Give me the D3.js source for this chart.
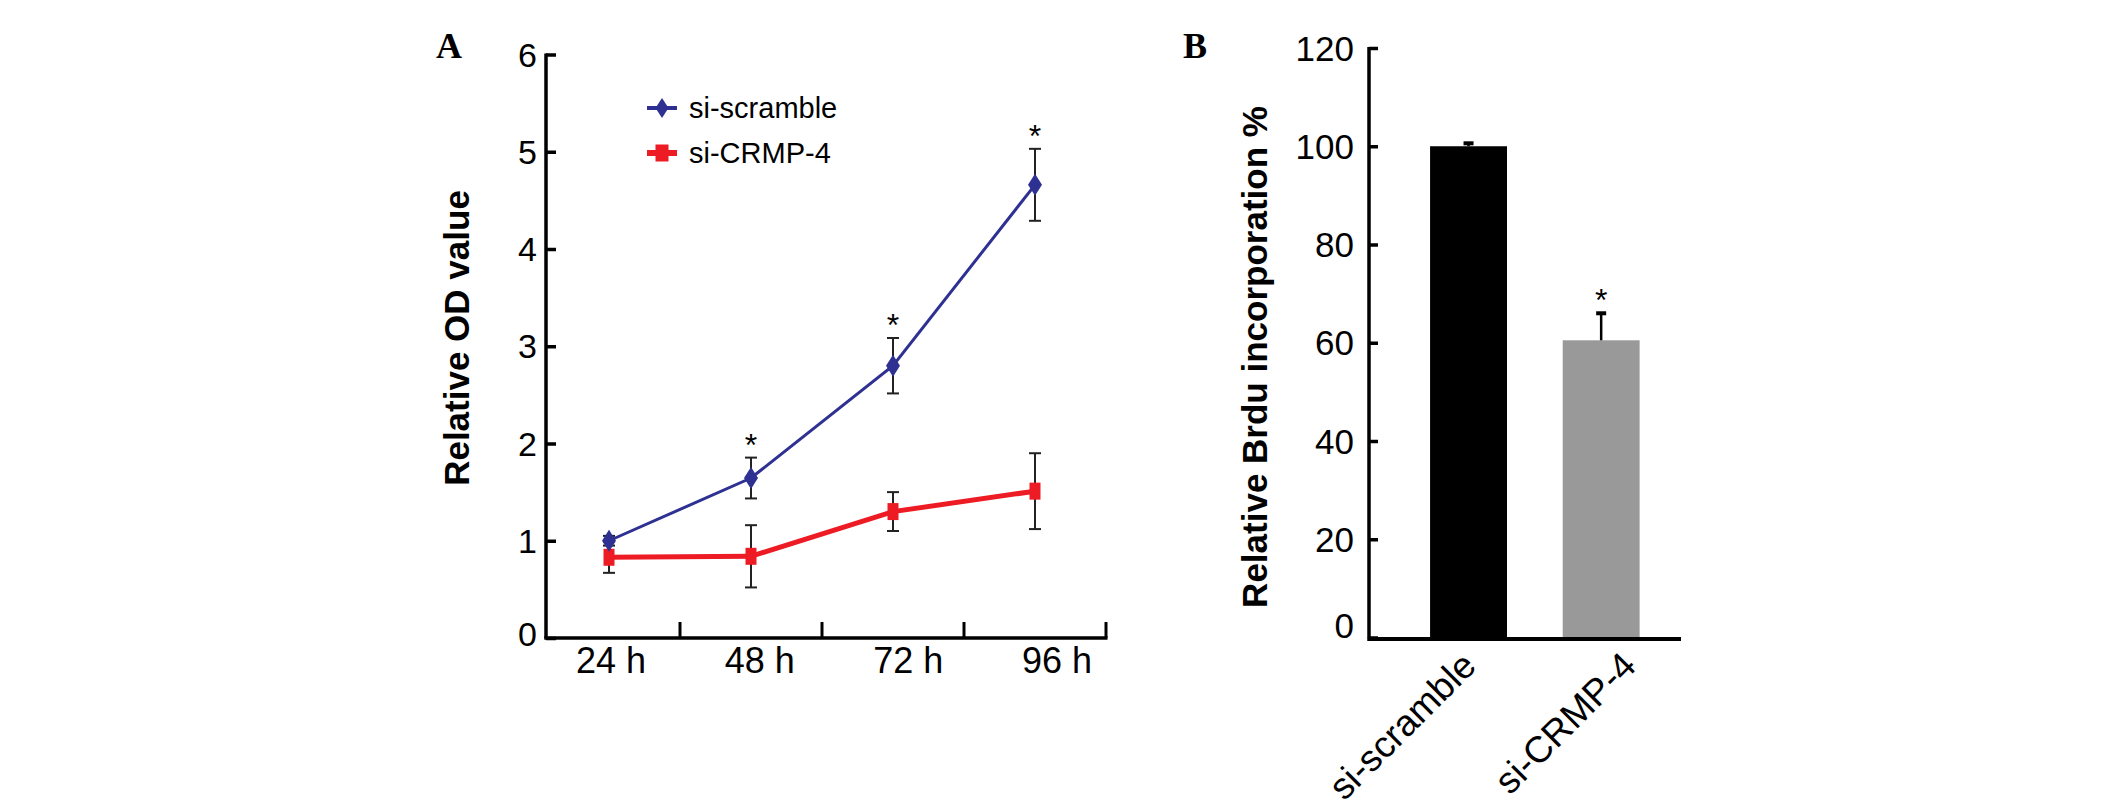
<!DOCTYPE html>
<html>
<head>
<meta charset="utf-8">
<script src="https://cdn.jsdelivr.net/npm/d3@7/dist/d3.min.js"></script>
<style>
  html, body { margin: 0; padding: 0; background: #ffffff; }
  svg { display: block; }
</style>
</head>
<body>
<svg id="chart" width="2126" height="808"></svg>
<script>
// ---------- Data ----------
const timepoints = ["24 h", "48 h", "72 h", "96 h"];
const scrambleMean = [1.00, 1.645, 2.80, 4.66];
const scrambleErr  = [0.05, 0.21, 0.285, 0.37];
const crmpMean     = [0.83, 0.84, 1.30, 1.51];
const crmpErr      = [0.16, 0.32, 0.20, 0.39];
const sigA         = [false, true, true, true];
const yTicksA      = [0, 1, 2, 3, 4, 5, 6];
const seriesNames  = ["si-scramble", "si-CRMP-4"];

const groupsB   = ["si-scramble", "si-CRMP-4"];
const brduMean  = [100, 60.5];
const brduErr   = [0.6, 5.5];
const sigB      = [false, true];
const yTicksB   = [0, 20, 40, 60, 80, 100, 120];

// ---------- Styles ----------
const BLUE = "#2E3192", RED = "#ED1C24", GRAY = "#999999";
const SANS = "'Liberation Sans', Arial, sans-serif";
const SERIF = "'Liberation Serif', 'Times New Roman', serif";

const svg = d3.select("#chart");

// ================= Panel A =================
const xA = d3.scaleBand().domain(timepoints).range([538, 1106]);
const xLabA = d3.scalePoint().domain(timepoints).range([611, 1057]);
const yA = d3.scaleLinear().domain([0, 6]).range([638, 54.5]);
const axisLeftA = 546;

const gA = svg.append("g");

// panel letter
gA.append("text").attr("x", 449).attr("y", 58)
  .attr("text-anchor", "middle").attr("font-family", SERIF)
  .attr("font-weight", "bold").attr("font-size", 36).text("A");

// y axis (ticks pointing inward)
const yAxisA = d3.axisRight(yA).tickValues(yTicksA).tickSize(10).tickFormat("");
const gyA = gA.append("g").attr("transform", `translate(${axisLeftA},0)`).call(yAxisA);
gyA.select(".domain").attr("stroke", "#000").attr("stroke-width", 3.5)
  .attr("d", `M0,${yA(6) - 1}V${yA(0)}`);
gyA.selectAll(".tick line").attr("stroke", "#000").attr("stroke-width", 3.5);
gA.selectAll(".ylabA").data(yTicksA).enter().append("text")
  .attr("x", axisLeftA - 9).attr("y", d => yA(d) - (d === 0 ? 4 : 0)).attr("dy", "0.36em")
  .attr("text-anchor", "end").attr("font-family", SANS).attr("font-size", 34)
  .text(d => d);

// x axis line with upward ticks at band boundaries
gA.append("line").attr("x1", axisLeftA - 1.75).attr("x2", xA.range()[1] + 1.5)
  .attr("y1", yA(0)).attr("y2", yA(0)).attr("stroke", "#000").attr("stroke-width", 3.5);
gA.selectAll(".xtickA").data(timepoints).enter().append("line")
  .attr("x1", d => xA(d) + xA.bandwidth()).attr("x2", d => xA(d) + xA.bandwidth())
  .attr("y1", yA(0)).attr("y2", yA(0) - 16)
  .attr("stroke", "#000").attr("stroke-width", 3);
gA.selectAll(".xlabA").data(timepoints).enter().append("text")
  .attr("x", d => xLabA(d)).attr("y", 673)
  .attr("text-anchor", "middle").attr("font-family", SANS).attr("font-size", 36)
  .text(d => d);

// y title
gA.append("text")
  .attr("transform", `translate(456,338) rotate(-90)`)
  .attr("dy", "0.36em")
  .attr("text-anchor", "middle").attr("font-family", SANS)
  .attr("font-weight", "bold").attr("font-size", 35).text("Relative OD value");

const cx = d => xA(d) + xA.bandwidth() / 2;
const diamond = (x, y, hw, hh) => `M${x},${y - hh}L${x + hw},${y}L${x},${y + hh}L${x - hw},${y}Z`;

function drawSeries(means, errs, color, width, shape) {
  const pts = timepoints.map((t, i) => ({ t, m: means[i], e: errs[i] }));
  gA.append("path").datum(pts)
    .attr("fill", "none").attr("stroke", color).attr("stroke-width", width)
    .attr("d", d3.line().x(d => cx(d.t)).y(d => yA(d.m)));
  const eg = gA.append("g").attr("stroke", "#222").attr("stroke-width", 2);
  pts.forEach(d => {
    eg.append("line").attr("x1", cx(d.t)).attr("x2", cx(d.t))
      .attr("y1", yA(d.m + d.e)).attr("y2", yA(d.m - d.e));
    eg.append("line").attr("x1", cx(d.t) - 6).attr("x2", cx(d.t) + 6)
      .attr("y1", yA(d.m + d.e)).attr("y2", yA(d.m + d.e));
    eg.append("line").attr("x1", cx(d.t) - 6).attr("x2", cx(d.t) + 6)
      .attr("y1", yA(d.m - d.e)).attr("y2", yA(d.m - d.e));
  });
  pts.forEach(d => {
    if (shape === "diamond") {
      gA.append("path").attr("d", diamond(cx(d.t), yA(d.m), 7, 11)).attr("fill", color);
    } else {
      gA.append("rect").attr("x", cx(d.t) - 5.5).attr("y", yA(d.m) - 8.5)
        .attr("width", 11).attr("height", 17).attr("fill", color);
    }
  });
}
drawSeries(crmpMean, crmpErr, RED, 5, "square");
drawSeries(scrambleMean, scrambleErr, BLUE, 3, "diamond");

// significance stars
timepoints.forEach((t, i) => {
  if (!sigA[i]) return;
  gA.append("text").attr("x", cx(t)).attr("y", yA(scrambleMean[i] + scrambleErr[i]) - 2)
    .attr("text-anchor", "middle").attr("font-family", SANS).attr("font-size", 32)
    .text("*");
});

// legend
const legY = [108, 153];
const legColors = [BLUE, RED];
seriesNames.forEach((name, i) => {
  const y = legY[i];
  gA.append("line").attr("x1", 647).attr("x2", 677).attr("y1", y).attr("y2", y)
    .attr("stroke", legColors[i]).attr("stroke-width", i === 0 ? 4 : 6);
  if (i === 0) gA.append("path").attr("d", diamond(662, y, 6.5, 10)).attr("fill", BLUE);
  else gA.append("rect").attr("x", 655.5).attr("y", y - 8.5).attr("width", 13).attr("height", 17).attr("fill", RED);
  gA.append("text").attr("x", 689).attr("y", y).attr("dy", "0.35em")
    .attr("font-family", SANS).attr("font-size", 29).text(name);
});

// ================= Panel B =================
const xB = d3.scaleBand().domain(groupsB).range([1368, 1681])
  .paddingInner(0.42).paddingOuter(0.39).align(0.6);
const xLabB = d3.scalePoint().domain(groupsB).range([1478, 1638]);
const yB = d3.scaleLinear().domain([0, 120]).range([637.5, 48]);
const axisLeftB = 1369;

const gB = svg.append("g");
gB.append("text").attr("x", 1195).attr("y", 58)
  .attr("text-anchor", "middle").attr("font-family", SERIF)
  .attr("font-weight", "bold").attr("font-size", 36).text("B");

// bars
const barColors = [ "#000000", GRAY ];
groupsB.forEach((g, i) => {
  gB.append("rect").attr("x", xB(g)).attr("y", yB(brduMean[i]))
    .attr("width", xB.bandwidth()).attr("height", yB(0) - yB(brduMean[i]))
    .attr("fill", barColors[i]);
  const bx = xB(g) + xB.bandwidth() / 2;
  gB.append("line").attr("x1", bx).attr("x2", bx)
    .attr("y1", yB(brduMean[i])).attr("y2", yB(brduMean[i] + brduErr[i]))
    .attr("stroke", "#000").attr("stroke-width", 2.5);
  gB.append("line").attr("x1", bx - 5).attr("x2", bx + 5)
    .attr("y1", yB(brduMean[i] + brduErr[i])).attr("y2", yB(brduMean[i] + brduErr[i]))
    .attr("stroke", "#000").attr("stroke-width", 4);
  if (sigB[i]) {
    gB.append("text").attr("x", bx).attr("y", yB(brduMean[i] + brduErr[i]) - 2)
      .attr("text-anchor", "middle").attr("font-family", SANS).attr("font-size", 32)
      .text("*");
  }
});

// y axis
const yAxisB = d3.axisRight(yB).tickValues(yTicksB).tickSize(9).tickFormat("");
const gyB = gB.append("g").attr("transform", `translate(${axisLeftB},0)`).call(yAxisB);
gyB.select(".domain").attr("stroke", "#000").attr("stroke-width", 3.5)
  .attr("d", `M0,${yB(120) - 1}V${yB(0)}`);
gyB.selectAll(".tick line").attr("stroke", "#000").attr("stroke-width", 3.5);
gB.selectAll(".ylabB").data(yTicksB).enter().append("text")
  .attr("x", axisLeftB - 15).attr("y", d => yB(d) - (d === 0 ? 12 : 0)).attr("dy", "0.36em")
  .attr("text-anchor", "end").attr("font-family", SANS).attr("font-size", 35)
  .text(d => d);

// x axis baseline
gB.append("line").attr("x1", axisLeftB - 1.75).attr("x2", 1681)
  .attr("y1", 639).attr("y2", 639).attr("stroke", "#000").attr("stroke-width", 4);

// rotated category labels
gB.selectAll(".xlabB").data(groupsB).enter().append("text")
  .attr("transform", d => `translate(${xLabB(d)},668) rotate(-45)`)
  .attr("text-anchor", "end").attr("font-family", SANS).attr("font-size", 37)
  .text(d => d);

// y title
gB.append("text")
  .attr("transform", `translate(1254,357) rotate(-90)`)
  .attr("dy", "0.36em")
  .attr("text-anchor", "middle").attr("font-family", SANS)
  .attr("font-weight", "bold").attr("font-size", 35).text("Relative Brdu incorporation %");
</script>
</body>
</html>
